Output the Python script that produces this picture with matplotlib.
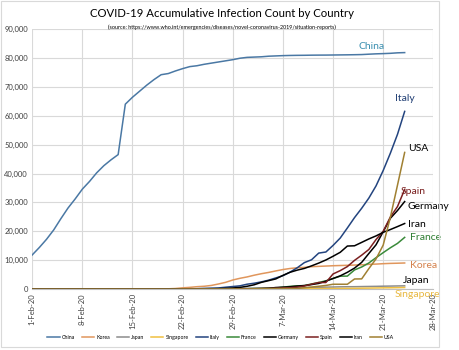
import numpy as np
import pandas as pd
import matplotlib
matplotlib.use("Agg")
import matplotlib.pyplot as plt
import matplotlib.dates as mdates
from matplotlib.ticker import FuncFormatter
from matplotlib.patches import Rectangle

plt.rcParams['font.family'] = ['Lato', 'DejaVu Sans']

# 1-Feb-2020 .. 24-Mar-2020 (53 days)
dates = pd.date_range('2020-02-01', '2020-03-24', freq='D')

china = [11821, 14411, 17238, 20471, 24363, 28060, 31211, 34598, 37251, 40235,
         42708, 44730, 46550, 64000, 66400, 68500, 70600, 72500, 74200, 74600,
         75500, 76300, 77000, 77300, 77800, 78200, 78600, 79000, 79400,
         79900, 80200, 80300, 80400, 80600, 80700, 80800, 80860, 80900, 80920,
         80960, 80980, 80990, 81020, 81050, 81080, 81120, 81170, 81300, 81420,
         81500, 81600, 81770, 81850]
korea = [12, 15, 15, 16, 16, 23, 24, 24, 25, 27, 28, 28, 28, 28, 28, 29, 30,
         31, 51, 104, 204, 433, 602, 833, 977, 1261, 1766, 2337, 3150,
         3736, 4212, 4812, 5328, 5766, 6284, 6767, 7134, 7382, 7513, 7755,
         7869, 7979, 8086, 8162, 8236, 8320, 8413, 8565, 8652, 8799, 8897,
         8961, 9037]
japan = [17, 20, 20, 20, 33, 25, 25, 25, 26, 26, 26, 28, 29, 33, 41, 53, 59,
         65, 73, 85, 93, 105, 132, 144, 157, 164, 186, 210, 230,
         239, 254, 268, 284, 317, 349, 408, 455, 488, 514, 568, 620, 675,
         716, 780, 814, 829, 873, 914, 950, 1007, 1046, 1089, 1128]
singapore = [16, 18, 18, 24, 28, 28, 30, 33, 40, 43, 45, 47, 50, 58, 67, 72,
             75, 77, 81, 84, 85, 86, 89, 89, 91, 93, 96, 98, 102,
             106, 108, 110, 110, 117, 130, 138, 150, 150, 160, 178, 178, 200,
             212, 226, 243, 266, 313, 345, 385, 432, 455, 509, 558]
italy = [2, 2, 2, 2, 2, 2, 3, 3, 3, 3, 3, 3, 3, 3, 3, 3, 3, 3, 3, 3, 3,
         9, 76, 124, 229, 322, 400, 650, 888,
         1128, 1689, 2036, 2502, 3089, 3858, 4636, 5883, 7375, 9172, 10149,
         12462, 12839, 15113, 17660, 21157, 24747, 27980, 31506, 35713,
         41035, 47021, 53578, 61500]
france = [6, 6, 6, 6, 6, 6, 6, 11, 11, 11, 11, 11, 11, 11, 12, 12, 12, 12,
          12, 12, 12, 12, 12, 12, 12, 18, 38, 57, 100,
          100, 130, 191, 204, 285, 377, 653, 949, 1126, 1209, 1784, 2281,
          2876, 3661, 4469, 4499, 6633, 7652, 9043, 10871, 12612, 14296,
          15821, 17900]
germany = [7, 10, 12, 12, 12, 12, 13, 13, 14, 14, 16, 16, 16, 16, 16, 16,
           16, 16, 16, 16, 16, 16, 16, 16, 16, 18, 21, 26, 57,
           57, 129, 157, 196, 262, 545, 670, 800, 1040, 1224, 1565, 1966,
           2745, 3675, 4585, 5813, 7272, 9257, 12327, 15320, 19848, 24500,
           27200, 30300]
spain = [1, 1, 1, 1, 1, 1, 1, 1, 2, 2, 2, 2, 2, 2, 2, 2, 2, 2, 2, 2, 2, 2,
         2, 2, 2, 2, 12, 25, 32,
         45, 84, 120, 165, 222, 259, 400, 500, 673, 1073, 1695, 2277, 2277,
         5232, 6391, 7798, 9942, 11748, 13716, 17147, 19980, 24926, 28572,
         34500]
iran = [0] * 19 + [2, 5, 18, 28, 43, 61, 95, 141, 245, 388,
                   593, 978, 1501, 2336, 2922, 3513, 4747, 5823, 6566, 7161,
                   8042, 9000, 10075, 11364, 12729, 14900, 14991, 16169,
                   17361, 18407, 19644, 20610, 21638, 22700]
usa = [7, 8, 11, 11, 11, 11, 12, 12, 12, 12, 13, 13, 14, 15, 15, 15, 15, 15,
       15, 15, 15, 35, 35, 35, 53, 53, 59, 60, 62,
       62, 64, 108, 129, 148, 213, 213, 213, 213, 472, 696, 987, 1264, 1678,
       1678, 1678, 3503, 3536, 7087, 10442, 15219, 24800, 36000, 47300]

countries = ['China', 'Korea', 'Japan', 'Singapore', 'Italy', 'France',
             'Germany', 'Spain', 'Iran', 'USA']
series = [china, korea, japan, singapore, italy, france, germany, spain, iran, usa]
line_colors = ['#4a78a4', '#e0965c', '#8c8c8c', '#f0c040', '#23447f',
               '#3a8a3a', '#000000', '#7b2020', '#000000', '#a08032']
label_colors = ['#3a8fb0', '#d4804a', '#000000', '#e8b840', '#1f3d73',
                '#2e7d32', '#000000', '#7b2020', '#000000', '#000000']
# where each end label sits: (days after 1-Feb, value)
label_pos = {'China': (45.5, 84100), 'Korea': (52.7, 8000), 'Japan': (51.7, 3100),
             'Singapore': (50.6, -1700), 'Italy': (50.6, 65800), 'France': (52.7, 17700),
             'Germany': (52.4, 28700), 'Spain': (51.5, 33900), 'Iran': (52.5, 22500),
             'USA': (52.5, 48800)}

fig = plt.figure(figsize=(4.6, 3.5), dpi=100)
ax = fig.add_axes([0.07, 0.174, 0.872, 0.743])

for name, vals, lc in zip(countries, series, line_colors):
    ax.plot(dates, vals, color=lc, lw=1.1, label=name)

for name, tc in zip(countries, label_colors):
    d, v = label_pos[name]
    ax.text(dates[0] + pd.Timedelta(days=d), v, name,
            color=tc, fontsize=7.5, ha='left', va='center')

ax.set_xlim(pd.Timestamp('2020-02-01'), pd.Timestamp('2020-03-28'))
ax.set_ylim(0, 90000)
ax.set_yticks(np.arange(0, 90001, 10000))
ax.yaxis.set_major_formatter(FuncFormatter(lambda v, p: '0' if v == 0 else f'{int(v):,}'))
ax.set_xticks(pd.date_range('2020-02-01', '2020-03-28', freq='7D'))
ax.xaxis.set_major_formatter(FuncFormatter(
    lambda v, p: f"{mdates.num2date(v).day}-{mdates.num2date(v).strftime('%b')}-20"))
plt.setp(ax.get_xticklabels(), rotation=90)
ax.tick_params(labelsize=5.5, colors='#404040', length=0, pad=3)
ax.grid(True, color='#d9d9d9', lw=0.8)
ax.set_axisbelow(True)
for s in ['top', 'right', 'left']:
    ax.spines[s].set_visible(False)
ax.spines['bottom'].set_color('#bfbfbf')

fig.text(0.482, 0.962, 'COVID-19 Accumulative Infection Count by Country',
         ha='center', va='center', fontsize=8.2)
fig.text(0.482, 0.923,
         '(source: https://www.who.int/emergencies/diseases/novel-coronavirus-2019/situation-reports)',
         ha='center', va='center', fontsize=3.9)

fig.legend(loc='center', bbox_to_anchor=(0.48, 0.035), ncol=10, fontsize=3.8,
           frameon=False, handlelength=2.3, handletextpad=0.4, columnspacing=1.3)

fig.patches.append(Rectangle((0.002, 0.008), 0.953, 0.988, transform=fig.transFigure,
                             fill=False, edgecolor='#d9d9d9', lw=0.8))

fig.savefig('out.png', dpi=100)
